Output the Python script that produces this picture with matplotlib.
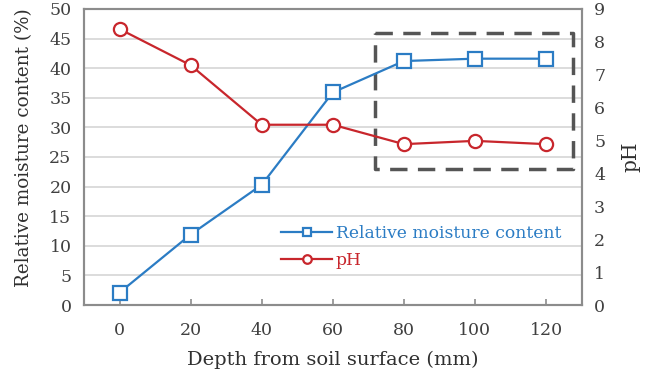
import matplotlib.pyplot as plt
import numpy as np

# depth categories and measured values
depth = [0, 20, 40, 60, 80, 100, 120]
moisture = [2.1, 11.9, 20.3, 35.9, 41.2, 41.6, 41.6]
ph = [8.39, 7.29, 5.48, 5.48, 4.89, 4.99, 4.89]

blue = '#2b7cc4'
red = '#c8262c'
frame = '#8c8c8c'

plt.rcParams['font.family'] = ['DejaVu Serif']

fig = plt.figure(figsize=(6.53, 3.72), dpi=100)
ax1 = fig.add_axes([0.1286, 0.180, 0.762, 0.796])
ax2 = ax1.twinx()

x = np.arange(len(depth))

ax1.plot(x, moisture, color=blue, lw=1.6, marker='s', ms=9.5, mfc='white',
         mec=blue, mew=1.6, label='Relative moisture content', zorder=3)
ax2.plot(x, ph, color=red, lw=1.6, marker='o', ms=9.5, mfc='white',
         mec=red, mew=1.6, label='pH', zorder=3)

ax1.set_xlim(-0.5, 6.5)
ax1.set_ylim(0, 50)
ax2.set_ylim(0, 9)
ax1.set_xticks(x)
ax1.set_xticklabels([str(d) for d in depth])
ax1.set_yticks(np.arange(0, 51, 5))
ax2.set_yticks(np.arange(0, 10, 1))

ax1.yaxis.grid(True, color='#d9d9d9', lw=1.3)
ax1.set_axisbelow(True)

for ax in (ax1, ax2):
    for s in ax.spines.values():
        s.set_color(frame)
        s.set_linewidth(1.5)
    ax.tick_params(axis='y', length=0, labelsize=12.5, colors='#404040', pad=9)
ax1.tick_params(axis='x', direction='in', length=4, color=frame, width=1.2,
                labelsize=12.5, labelcolor='#404040', pad=12)

ax1.set_xlabel('Depth from soil surface (mm)', fontsize=14, color='#303030', labelpad=9)
ax1.set_ylabel('Relative moisture content (%)', fontsize=13.2, color='#303030')
ax1.yaxis.set_label_coords(-0.102, 0.53)
ax2.set_ylabel('pH', fontsize=14.5, color='#303030', labelpad=12)

# highlight box over the plateau region
ax1.plot([3.59, 6.38, 6.38, 3.59, 3.59], [46.0, 46.0, 22.9, 22.9, 46.0],
         color='#555555', lw=2.5, ls=(0, (5, 3)), zorder=2)

h1, l1 = ax1.get_legend_handles_labels()
h2, l2 = ax2.get_legend_handles_labels()
leg = ax2.legend(h1 + h2, l1 + l2, loc='lower right', bbox_to_anchor=(0.99, 0.07),
                 frameon=False, fontsize=12.3, markerscale=0.65, handlelength=3.0,
                 handletextpad=0.2, labelspacing=0.6)
for t, c in zip(leg.get_texts(), [blue, red]):
    t.set_color(c)

fig.savefig('out.png', dpi=100)
